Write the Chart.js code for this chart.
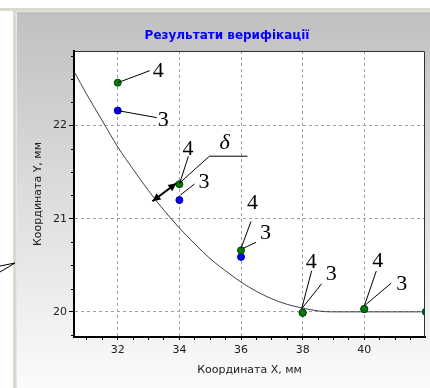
<!DOCTYPE html>
<html>
<head>
<meta charset="utf-8">
<script src="https://cdn.jsdelivr.net/npm/chart.js@4"></script>
<style>
  html, body { margin: 0; padding: 0; background: #fff; }
  canvas { display: block; }
</style>
</head>
<body>
<canvas id="chart" width="430" height="388"></canvas>
<script>
// Data
const xMin = 30.58, xMax = 41.97;
const yMin = 19.73, yMax = 22.8;

const pointX = [32, 34, 36, 38, 40, 42];
const series4 = [22.46, 21.37, 20.66, 19.99, 20.03, 20.0];   // green
const series3 = [22.16, 21.2, 20.59, 19.99, 20.03, 20.0];    // blue

const curveX = [30.6, 31, 31.5, 32, 32.5, 33, 33.5, 34, 34.5, 35, 35.5, 36, 36.5, 37, 37.5, 38, 38.5, 38.9, 40, 42];
const curveY = [22.57, 22.33, 22.05, 21.77, 21.53, 21.3, 21.09, 20.9, 20.73, 20.57, 20.44, 20.32, 20.22, 20.14, 20.08, 20.04, 20.01, 20.0, 20.0, 20.0];

const xTickLabels = [32, 34, 36, 38, 40];
const yTickLabels = [20, 21, 22];
const xMinorTicks = [31, 31.5, 32, 32.5, 33, 33.5, 34, 34.5, 35, 35.5, 36, 36.5, 37, 37.5, 38, 38.5, 39, 39.5, 40, 40.5, 41, 41.5];
const yMinorTicks = [19.75, 20, 20.25, 20.5, 20.75, 21, 21.25, 21.5, 21.75, 22, 22.25, 22.5, 22.75];

// callouts: label text, which point, leader line and text offsets (px)
const callouts = [
  { text: "4", idx: 0, from: [0, 0], to: [32, -12], at: [35, -11] },
  { text: "3", idx: 0, s: 3, from: [0, 0], to: [39, 7], at: [40, 10] },
  { text: "4", idx: 1, from: [0, 0], to: [9, -28], at: [3, -35] },
  { text: "3", idx: 1, s: 3, from: [1, -5], to: [15, -16], at: [19, -18] },
  { text: "4", idx: 2, from: [0, -2], to: [10, -29], at: [6, -47] },
  { text: "3", idx: 2, from: [2, -2], to: [15, -8], at: [19, -17] },
  { text: "4", idx: 3, from: [-1, -4], to: [9, -42], at: [3, -51] },
  { text: "3", idx: 3, from: [-1, -4], to: [19, -29], at: [23, -39] },
  { text: "4", idx: 4, from: [0, -3], to: [12, -38], at: [8, -48] },
  { text: "3", idx: 4, from: [1, -4], to: [27, -26], at: [32, -25] }
];

const toXY = (xs, ys) => xs.map((x, i) => ({ x: x, y: ys[i] }));

const decor = {
  id: "decor",
  beforeDraw(chart) {
    const ctx = chart.ctx, a = chart.chartArea;
    ctx.save();
    ctx.fillStyle = "#ffffff";
    ctx.fillRect(0, 0, 430, 388);
    ctx.fillStyle = "#dcd9d0";
    ctx.fillRect(0, 8, 430, 3);
    ctx.fillRect(13, 8, 3, 380);
    const g = ctx.createLinearGradient(0, 11, 0, 388);
    g.addColorStop(0, "#c0c0c0");
    g.addColorStop(1, "#fbfbfb");
    ctx.fillStyle = g;
    ctx.fillRect(16, 11, 414, 377);
    ctx.fillStyle = "#e6e6e6";
    ctx.fillRect(16, 11, 414, 1);
    ctx.fillRect(16, 11, 1, 377);
    // small arrow at the left edge
    ctx.strokeStyle = "#000";
    ctx.lineWidth = 1;
    ctx.beginPath();
    ctx.moveTo(0, 266); ctx.lineTo(15, 263);
    ctx.moveTo(0, 272); ctx.lineTo(15, 263);
    ctx.stroke();
    ctx.fillStyle = "#ffffff";
    ctx.fillRect(a.left, a.top, a.right - a.left, a.bottom - a.top);
    // title
    ctx.fillStyle = "#0000ff";
    ctx.font = "bold 12px 'DejaVu Sans'";
    ctx.textAlign = "center";
    ctx.textBaseline = "middle";
    ctx.fillText("Результати верифікації", 227, 36);
    ctx.restore();
  },
  afterDraw(chart) {
    const ctx = chart.ctx, a = chart.chartArea;
    const xs = chart.scales.x, ys = chart.scales.y;
    ctx.save();
    // top/right frame
    ctx.strokeStyle = "#303030";
    ctx.lineWidth = 1;
    ctx.beginPath();
    ctx.moveTo(a.left, a.top + 0.5); ctx.lineTo(a.right - 0.5, a.top + 0.5); ctx.lineTo(a.right - 0.5, a.bottom);
    ctx.stroke();
    // minor ticks on y
    ctx.strokeStyle = "#000";
    ctx.beginPath();
    yMinorTicks.forEach(v => {
      if (yTickLabels.includes(v)) return;
      const py = Math.round(ys.getPixelForValue(v)) + 0.5;
      ctx.moveTo(a.left - 3, py); ctx.lineTo(a.left, py);
    });
    ctx.stroke();
    // callouts
    ctx.lineWidth = 1;
    ctx.fillStyle = "#000";
    ctx.font = "22px 'Liberation Serif'";
    ctx.textAlign = "left";
    ctx.textBaseline = "middle";
    callouts.forEach(c => {
      const px = xs.getPixelForValue(pointX[c.idx]);
      const py = ys.getPixelForValue(c.s === 3 ? series3[c.idx] : series4[c.idx]);
      ctx.beginPath();
      ctx.moveTo(px + c.from[0], py + c.from[1]);
      ctx.lineTo(px + c.to[0], py + c.to[1]);
      ctx.stroke();
      ctx.fillText(c.text, px + c.at[0], py + c.at[1]);
    });
    // delta marker at point 34
    const dx = xs.getPixelForValue(pointX[1]), dy = ys.getPixelForValue(series4[1]);
    ctx.beginPath();
    ctx.moveTo(dx, dy - 1); ctx.lineTo(dx + 30, dy - 28); ctx.lineTo(dx + 68, dy - 28);
    ctx.stroke();
    ctx.font = "italic 22px 'Liberation Serif'";
    ctx.fillText("δ", dx + 40, dy - 41);
    // double arrow between curve and point
    const x1 = dx - 27, y1 = dy + 17, x2 = dx - 3, y2 = dy - 1;
    const ang = Math.atan2(y2 - y1, x2 - x1);
    ctx.lineWidth = 2;
    ctx.beginPath(); ctx.moveTo(x1, y1); ctx.lineTo(x2, y2); ctx.stroke();
    const head = (hx, hy, an) => {
      ctx.beginPath();
      ctx.moveTo(hx, hy);
      ctx.lineTo(hx - 9 * Math.cos(an - 0.45), hy - 9 * Math.sin(an - 0.45));
      ctx.lineTo(hx - 9 * Math.cos(an + 0.45), hy - 9 * Math.sin(an + 0.45));
      ctx.closePath();
      ctx.fill();
    };
    head(x2, y2, ang);
    head(x1, y1, ang + Math.PI);
    ctx.restore();
  }
};

const axisFont = { family: "'DejaVu Sans'", size: 11 };

new Chart(document.getElementById("chart"), {
  type: "scatter",
  data: {
    datasets: [
      {
        label: "4",
        data: toXY(pointX, series4),
        backgroundColor: "#008000",
        borderColor: "#004000",
        borderWidth: 1,
        pointRadius: 3.5,
        clip: 0
      },
      {
        label: "3",
        data: toXY(pointX, series3),
        backgroundColor: "#0000ff",
        borderColor: "#000080",
        borderWidth: 1,
        pointRadius: 3.5,
        clip: 0
      },
      {
        label: "curve",
        data: toXY(curveX, curveY),
        showLine: true,
        borderColor: "#404040",
        borderWidth: 1,
        pointRadius: 0,
        cubicInterpolationMode: "monotone",
        clip: 0
      }
    ]
  },
  options: {
    responsive: false,
    animation: false,
    layout: { padding: { left: 16, top: 51, right: 4, bottom: 0 } },
    plugins: {
      legend: { display: false },
      tooltip: { enabled: false }
    },
    scales: {
      x: {
        type: "linear",
        min: xMin,
        max: xMax,
        afterBuildTicks: s => { s.ticks = xMinorTicks.map(v => ({ value: v })); },
        afterFit: s => { s.height = 51; },
        ticks: {
          autoSkip: false,
          maxRotation: 0,
          padding: 4,
          color: "#202020",
          font: axisFont,
          callback: v => xTickLabels.includes(v) ? String(v) : ""
        },
        grid: {
          color: c => c.tick && xTickLabels.includes(c.tick.value) ? "#a0a0a0" : "rgba(0,0,0,0)",
          tickColor: "#000",
          tickLength: 3
        },
        border: { color: "#000", width: 2, dash: [3, 3] },
        title: {
          display: true,
          text: "Координата X, мм",
          color: "#202020",
          font: axisFont,
          padding: { top: 0, bottom: 11 }
        }
      },
      y: {
        type: "linear",
        min: yMin,
        max: yMax,
        afterBuildTicks: s => { s.ticks = yMinorTicks.map(v => ({ value: v })); },
        afterFit: s => { s.width = 58; },
        ticks: {
          autoSkip: false,
          padding: 2,
          color: "#202020",
          font: axisFont,
          callback: v => yTickLabels.includes(v) ? String(v) : ""
        },
        grid: {
          color: c => c.tick && yTickLabels.includes(c.tick.value) ? "#a0a0a0" : "rgba(0,0,0,0)",
          tickColor: c => c.tick && yTickLabels.includes(c.tick.value) ? "#000" : "rgba(0,0,0,0)",
          tickLength: 5
        },
        border: { color: "#000", width: 2, dash: [3, 3] },
        title: {
          display: true,
          text: "Координата Y, мм",
          color: "#202020",
          font: axisFont,
          padding: { top: 16, bottom: 0 }
        }
      }
    }
  },
  plugins: [decor]
});
</script>
</body>
</html>
